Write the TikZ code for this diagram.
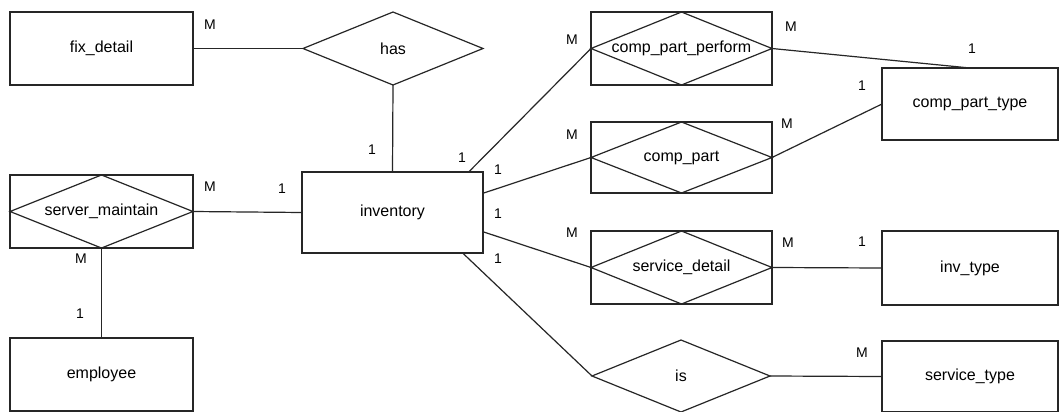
\documentclass[tikz,border=0pt]{standalone}
\usepackage{fontspec}
\setmainfont{Liberation Sans}
\usetikzlibrary{shapes.geometric}
\begin{document}
\begin{tikzpicture}[x=1pt,y=-1pt,
  ln/.style={line width=1.2pt, draw=black!85},
  ent/.style={ln, rectangle, minimum width=183pt, minimum height=73pt, inner sep=0pt, outer sep=0pt, font=\fontsize{16}{18}\selectfont},
  rel/.style={ln, diamond, minimum width=180pt, minimum height=73pt, inner sep=0pt, outer sep=0pt, font=\fontsize{16}{18}\selectfont},
  card/.style={font=\fontsize{14}{16}\selectfont, inner sep=0pt}
]
\path[fill=white] (0,0) rectangle (1060,412);
\useasboundingbox (0,0) rectangle (1060,412);

% entities
\node[ent] (fix) at (101.5,48.5) {fix\_detail};
\node[ent, minimum width=181pt, minimum height=81pt] (inv) at (392.5,212.5) {inventory};
\node[ent] (emp) at (101.5,374.5) {employee};
\node[ent, minimum width=176pt, minimum height=72pt] (cpt) at (970,104) {comp\_part\_type};
\node[ent, minimum width=176pt, minimum height=74pt] (ivt) at (970,268) {inv\_type};
\node[ent, minimum width=176pt, minimum height=71pt] (svt) at (970,376.5) {service\_type};

% relationships
\node[rel] (has) at (393,48.5) {has};
\node[rel, minimum width=178pt, minimum height=72pt] (is) at (681,376) {is};

% weak relationships (box with diamond)
\node[ent] (srv) at (101.5,211.5) {server\_maintain};
\draw[ln] (srv.north) -- (srv.east) -- (srv.south) -- (srv.west) -- cycle;
\node[ent, minimum width=181pt] (cpp) at (681.5,48.5) {comp\_part\_perform};
\draw[ln] (cpp.north) -- (cpp.east) -- (cpp.south) -- (cpp.west) -- cycle;
\node[ent, minimum width=181pt, minimum height=71pt] (cp) at (681.5,157.5) {comp\_part};
\draw[ln] (cp.north) -- (cp.east) -- (cp.south) -- (cp.west) -- cycle;
\node[ent, minimum width=181pt] (sd) at (681.5,267.5) {service\_detail};
\draw[ln] (sd.north) -- (sd.east) -- (sd.south) -- (sd.west) -- cycle;

% connectors
\draw[ln] (fix.east) -- (has.west);
\draw[ln] (has.south) -- (inv.north);
\draw[ln] (srv.east) -- (inv.west);
\draw[ln] (srv.south) -- (emp.north);
\draw[ln] (cpp.west) -- (inv.28);
\draw[ln] (cp.west) -- (inv.12);
\draw[ln] (sd.west) -- (inv.-12);
\draw[ln] (is.west) -- (inv.-30);
\draw[ln] (cpp.east) -- (cpt.north);
\draw[ln] (cp.east) -- (cpt.west);
\draw[ln] (sd.east) -- (ivt.west);
\draw[ln] (is.east) -- (svt.west);

% cardinalities
\node[card] (c1) at (210,25) {M};
\node[card] (c2) at (372,150) {1};
\node[card] (c3) at (210,187) {M};
\node[card] (c4) at (282,189) {1};
\node[card] (c5) at (81,259) {M};
\node[card] (c6) at (80,314) {1};
\node[card] (c7) at (572,40) {M};
\node[card] (c8) at (462,158) {1};
\node[card] (c9) at (791,27) {M};
\node[card] (c10) at (972,49) {1};
\node[card] (c11) at (572,135) {M};
\node[card] (c12) at (498,170) {1};
\node[card] (c13) at (787,124) {M};
\node[card] (c14) at (862,86) {1};
\node[card] (c15) at (572,233) {M};
\node[card] (c16) at (498,214) {1};
\node[card] (c17) at (788,243) {M};
\node[card] (c18) at (862,242) {1};
\node[card] (c19) at (498,259) {1};
\node[card] (c20) at (862,353) {M};
\end{tikzpicture}
\end{document}
